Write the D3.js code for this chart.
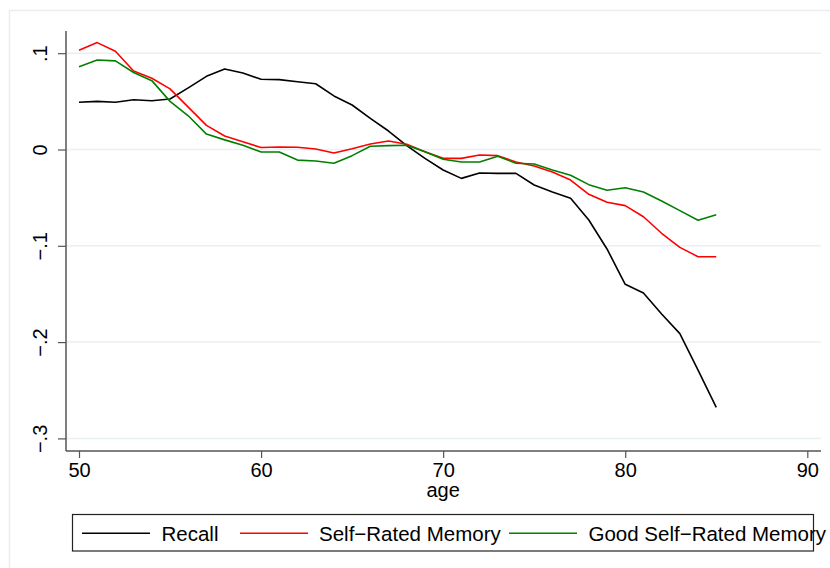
<!DOCTYPE html>
<html>
<head>
<meta charset="utf-8">
<script src="https://cdn.jsdelivr.net/npm/d3@7"></script>
<style>
  html, body { margin: 0; padding: 0; background: #fff; }
  svg { display: block; font-family: "Liberation Sans", Arial, sans-serif; }
</style>
</head>
<body>
<div id="chart"></div>
<script>
// Smoothed outcome by age — three series, Stata-style layout
const W = 830, H = 568;

const ages = d3.range(50, 86);
const recall = [0.049, 0.050, 0.049, 0.0517, 0.0507, 0.0524, 0.064, 0.076, 0.0836, 0.0794,
  0.0729, 0.0726, 0.0704, 0.0683, 0.0556, 0.0462, 0.0324, 0.0192, 0.004, -0.0092,
  -0.0213, -0.030, -0.0244, -0.0248, -0.0248, -0.0369, -0.0441, -0.0507, -0.0732, -0.1033,
  -0.140, -0.149, -0.1708, -0.1912, -0.229, -0.2677];
const selfRated = [0.103, 0.111, 0.102, 0.0815, 0.074, 0.063, 0.044, 0.025, 0.014, 0.008,
  0.002, 0.0026, 0.0023, 0.0005, -0.0036, 0.0007, 0.0057, 0.0088, 0.0054, -0.0023,
  -0.0092, -0.0092, -0.0057, -0.0064, -0.013, -0.0171, -0.0234, -0.0317, -0.0465, -0.0548,
  -0.0583, -0.0698, -0.087, -0.1016, -0.1113, -0.1113];
const goodSelfRated = [0.086, 0.093, 0.092, 0.080, 0.0715, 0.050, 0.035, 0.016, 0.010, 0.0044,
  -0.0026, -0.0026, -0.011, -0.012, -0.0143, -0.0064, 0.0033, 0.004, 0.0044, -0.0023,
  -0.0102, -0.013, -0.013, -0.0071, -0.0143, -0.015, -0.0213, -0.0268, -0.0365, -0.0424,
  -0.0397, -0.0441, -0.0535, -0.0635, -0.0735, -0.0677];

const seriesNames = ['Recall', 'Self\u2212Rated Memory', 'Good Self\u2212Rated Memory'];
const seriesColors = ['#000000', '#ff0000', '#008000'];
const seriesValues = [recall, selfRated, goodSelfRated];

const xTicks = [50, 60, 70, 80, 90];
const yTicks = [0.1, 0, -0.1, -0.2, -0.3];

// plot region (pixels)
const PL = 66, PR = 821, PT = 31, PB = 451;

const x = d3.scaleLinear().domain([50, 90]).range([79, 807.3]);
const y = d3.scaleLinear().domain([0.1, -0.3]).range([53.2, 438.4]);

const svg = d3.select('#chart').append('svg')
  .attr('width', W).attr('height', H);

// outer graph region frame
svg.append('rect')
  .attr('x', 9.5).attr('y', 10.5)
  .attr('width', 840).attr('height', 600)
  .attr('fill', 'none')
  .attr('stroke', '#e8eef0')
  .attr('stroke-width', 1.5);

// gridlines
svg.append('g').selectAll('line')
  .data(yTicks)
  .join('line')
  .attr('x1', PL).attr('x2', PR)
  .attr('y1', d => y(d)).attr('y2', d => y(d))
  .attr('stroke', '#e9f0f3')
  .attr('stroke-width', 1.5);

// series lines
const line = d3.line()
  .x((d, i) => x(ages[i]))
  .y(d => y(d));

svg.append('g').selectAll('path')
  .data(seriesValues)
  .join('path')
  .attr('d', d => line(d))
  .attr('fill', 'none')
  .attr('stroke', (d, i) => seriesColors[i])
  .attr('stroke-width', 1.6)
  .attr('stroke-linejoin', 'round');

// axes
const fmtY = v => v === 0 ? '0' : (v < 0 ? '\u2212' : '') + String(Math.abs(+v.toFixed(1))).replace(/^0/, '');

const yAxis = svg.append('g')
  .attr('transform', 'translate(' + PL + ',0)')
  .call(d3.axisLeft(y).tickValues(yTicks).tickSize(8).tickPadding(0).tickFormat(fmtY).tickSizeOuter(0));
yAxis.select('.domain').attr('d', 'M0,' + PT + 'V' + PB);
yAxis.selectAll('text')
  .attr('x', null).attr('dy', null)
  .attr('transform', 'translate(-19.5,0) rotate(-90)')
  .attr('text-anchor', 'middle')
  .attr('font-size', 20)
  .attr('font-family', '"Liberation Sans", Arial, sans-serif')
  .attr('fill', '#000');

const xAxis = svg.append('g')
  .attr('transform', 'translate(0,' + PB + ')')
  .call(d3.axisBottom(x).tickValues(xTicks).tickSize(7).tickPadding(0).tickFormat(d3.format('d')).tickSizeOuter(0));
xAxis.select('.domain').attr('d', 'M' + PL + ',0H' + PR);
xAxis.selectAll('text')
  .attr('y', 26).attr('dy', null)
  .attr('font-size', 20)
  .attr('font-family', '"Liberation Sans", Arial, sans-serif')
  .attr('fill', '#000');

[yAxis, xAxis].forEach(function(a) {
  a.select('.domain').attr('stroke', '#555').attr('stroke-width', 1.5);
  a.selectAll('.tick line').attr('stroke', '#555').attr('stroke-width', 1.2);
});

svg.append('text')
  .attr('x', x(70)).attr('y', 497)
  .attr('text-anchor', 'middle')
  .attr('font-size', 20)
  .text('age');

// legend
const legendG = svg.append('g');
legendG.append('rect')
  .attr('x', 72.5).attr('y', 514.5)
  .attr('width', 741).attr('height', 36.5)
  .attr('fill', 'none')
  .attr('stroke', '#222')
  .attr('stroke-width', 1.2);

const legendItems = [
  { x1: 82, x2: 150, tx: 161.5 },
  { x1: 240, x2: 308, tx: 319 },
  { x1: 509, x2: 577, tx: 588.5 }
];
legendItems.forEach(function(it, i) {
  legendG.append('line')
    .attr('x1', it.x1).attr('x2', it.x2)
    .attr('y1', 533.3).attr('y2', 533.3)
    .attr('stroke', seriesColors[i])
    .attr('stroke-width', 1.6);
  legendG.append('text')
    .attr('x', it.tx).attr('y', 541)
    .attr('font-size', 20.5)
    .attr('fill', '#000')
    .text(seriesNames[i]);
});
</script>
</body>
</html>
